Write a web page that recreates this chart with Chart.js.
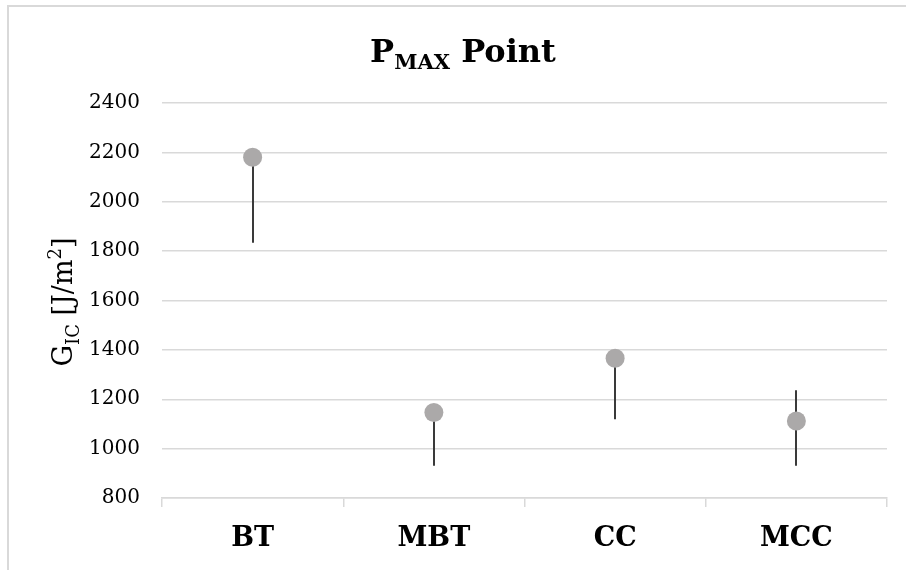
<!DOCTYPE html>
<html>
<head>
<meta charset="utf-8">
<script src="https://cdn.jsdelivr.net/npm/chart.js@4.4.1/dist/chart.umd.min.js"></script>
<style>
  html, body { margin: 0; padding: 0; background: #ffffff; }
  #wrap { width: 906px; height: 570px; position: relative; }
</style>
</head>
<body>
<div id="wrap"><canvas id="chart" width="906" height="570"></canvas></div>
<script>
// Specimen types and their critical energy release rate at the maximum load point
const categories = ['BT', 'MBT', 'CC', 'MCC'];
const gicValues = [2180, 1146, 1366, 1112];
// Scatter shown as error bars (J/m²)
const errorMinus = [346, 215, 247, 181];
const errorPlus = [0, 0, 0, 124];
// Value axis ticks
const yTicks = [800, 1000, 1200, 1400, 1600, 1800, 2000, 2200, 2400];

const SERIF = "'DejaVu Serif', 'Liberation Serif', serif";
const GRID = '#d9d9d9';

// Vertical error bars drawn behind the markers
const errorBarPlugin = {
  id: 'errorBars',
  beforeDatasetsDraw(chart) {
    const { ctx, scales: { x, y } } = chart;
    ctx.save();
    ctx.strokeStyle = '#3a3a3a';
    ctx.lineWidth = 2;
    gicValues.forEach((v, i) => {
      const px = Math.round(x.getPixelForValue(i));
      const top = y.getPixelForValue(v + errorPlus[i]);
      const bottom = y.getPixelForValue(v - errorMinus[i]);
      ctx.beginPath();
      ctx.moveTo(px, top);
      ctx.lineTo(px, bottom);
      ctx.stroke();
    });
    ctx.restore();
  }
};

// Title with subscript and axis title with sub/superscript, plus frame lines
const textPlugin = {
  id: 'richText',
  afterDraw(chart) {
    const ctx = chart.ctx;
    ctx.save();
    ctx.fillStyle = '#000000';
    ctx.textBaseline = 'alphabetic';

    // frame of the chart object
    ctx.strokeStyle = GRID;
    ctx.lineWidth = 2;
    ctx.beginPath();
    ctx.moveTo(8, 570);
    ctx.lineTo(8, 6);
    ctx.lineTo(906, 6);
    ctx.stroke();

    // Title: P_MAX Point
    const tBig = "bold 32px " + SERIF;
    const tSmall = "bold 21px " + SERIF;
    const parts = [
      { text: 'P', font: tBig, dy: 0 },
      { text: 'MAX', font: tSmall, dy: 7 },
      { text: ' Point', font: tBig, dy: 0 }
    ];
    let total = 0;
    parts.forEach(p => { ctx.font = p.font; p.w = ctx.measureText(p.text).width; total += p.w; });
    let tx = 463 - total / 2;
    const tBase = 62;
    parts.forEach(p => {
      ctx.font = p.font;
      ctx.fillText(p.text, tx, tBase + p.dy);
      tx += p.w;
    });

    // Axis title: G_IC [J/m²]
    const aBig = '27px ' + SERIF;
    const aSmall = '18px ' + SERIF;
    const aParts = [
      { text: 'G', font: aBig, dy: 0 },
      { text: 'IC', font: aSmall, dy: 7 },
      { text: ' [J/m', font: aBig, dy: 0 },
      { text: '2', font: aSmall, dy: -11 },
      { text: ']', font: aBig, dy: 0 }
    ];
    let aTotal = 0;
    aParts.forEach(p => { ctx.font = p.font; p.w = ctx.measureText(p.text).width; aTotal += p.w; });
    ctx.translate(72, 302);
    ctx.rotate(-Math.PI / 2);
    let ax = -aTotal / 2;
    aParts.forEach(p => {
      ctx.font = p.font;
      ctx.fillText(p.text, ax, p.dy);
      ax += p.w;
    });
    ctx.restore();
  }
};

new Chart(document.getElementById('chart'), {
  type: 'line',
  data: {
    labels: categories,
    datasets: [{
      label: 'GIC',
      data: gicValues,
      showLine: false,
      pointRadius: 9.5,
      pointHoverRadius: 9.5,
      pointBackgroundColor: '#aba9a9',
      pointBorderColor: '#aba9a9',
      pointBorderWidth: 0
    }]
  },
  options: {
    responsive: false,
    animation: false,
    events: [],
    layout: { padding: { top: 103, right: 19, left: 0, bottom: 0 } },
    plugins: {
      legend: { display: false },
      tooltip: { enabled: false },
      title: { display: false }
    },
    scales: {
      x: {
        type: 'category',
        offset: true,
        afterFit(scale) { scale.height = 72; },
        grid: {
          offset: true,
          drawOnChartArea: false,
          drawTicks: true,
          tickLength: 9,
          color: GRID,
          lineWidth: 1.5
        },
        border: { display: true, color: GRID, width: 1.5 },
        ticks: {
          color: '#000000',
          padding: 16,
          font: { family: SERIF, size: 27, weight: 'bold' }
        }
      },
      y: {
        min: 800,
        max: 2400,
        afterFit(scale) { scale.width = 162; },
        afterBuildTicks(scale) { scale.ticks = yTicks.map(v => ({ value: v })); },
        grid: { drawTicks: false, color: GRID, lineWidth: 1.5 },
        border: { display: false },
        ticks: {
          color: '#000000',
          padding: 22,
          font: { family: SERIF, size: 20 },
          callback: (v) => String(v)
        }
      }
    }
  },
  plugins: [errorBarPlugin, textPlugin]
});
</script>
</body>
</html>
